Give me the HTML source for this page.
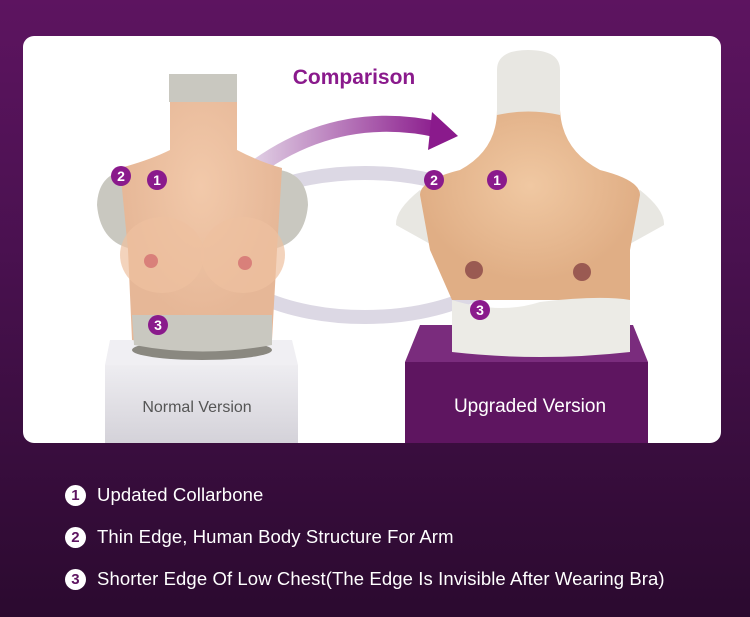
<!DOCTYPE html>
<html><head><style>
body{margin:0;width:750px;height:617px;overflow:hidden;background:linear-gradient(#5d1460 0%,#4a1150 40%,#2b0a2f 100%);font-family:"Liberation Sans",sans-serif;position:relative}
.card{position:absolute;left:23px;top:36px;width:698px;height:407px;background:#fff;border-radius:11px;overflow:hidden}
.li{position:absolute;left:65px;color:#fff;font-size:18.5px;display:flex;align-items:center;letter-spacing:0.1px}
.li span{display:inline-block;width:21px;height:21px;border-radius:50%;background:#fff;color:#5d1460;font-size:15px;font-weight:bold;text-align:center;line-height:21px;margin-right:11px}
</style></head><body>
<div class="card">
<svg width="698" height="407" viewBox="23 36 698 407" style="position:absolute;left:0;top:0">
<defs>
<linearGradient id="ar" x1="0" x2="1"><stop offset="0" stop-color="#e6dcea"/><stop offset="1" stop-color="#8a1a8c"/></linearGradient>
<linearGradient id="ped" x1="0" y1="0" x2="0" y2="1"><stop offset="0" stop-color="#eeedf1"/><stop offset="1" stop-color="#d4d2d9"/></linearGradient>
<radialGradient id="sk1" cx="0.5" cy="0.4"><stop offset="0" stop-color="#f2c9aa"/><stop offset="1" stop-color="#e6b797"/></radialGradient>
<radialGradient id="sk2" cx="0.5" cy="0.4"><stop offset="0" stop-color="#f0c8a2"/><stop offset="1" stop-color="#e0ae85"/></radialGradient>
</defs>
<ellipse cx="365" cy="245" rx="150" ry="72" fill="none" stroke="#dcd8e4" stroke-width="14"/>
<path d="M240 180 Q330 105 440 130" fill="none" stroke="url(#ar)" stroke-width="16"/>
<polygon points="432,112 458,136 428,150" fill="#8a1a8c"/>
<text x="354" y="84" text-anchor="middle" font-size="21" font-weight="bold" fill="#8a1a8c" font-family="Liberation Sans">Comparison</text>
<!-- left pedestal -->
<polygon points="110,340 292,340 298,365 105,365" fill="#f0eff3"/>
<rect x="105" y="365" width="193" height="78" fill="url(#ped)"/>
<text x="197" y="412" text-anchor="middle" font-size="16" fill="#555">Normal Version</text>
<!-- left product -->
<ellipse cx="202" cy="350" rx="70" ry="10" fill="#8a8880"/>
<path d="M125 170 Q98 175 97 205 Q100 240 128 248 Z" fill="#c9c8c0"/>
<path d="M280 170 Q307 175 308 205 Q305 240 277 248 Z" fill="#c9c8c0"/>
<path d="M170 80 L237 80 L237 150 Q260 162 282 168 L277 250 L272 340 Q202 352 132 340 L128 250 L120 168 Q150 160 170 150 Z" fill="url(#sk1)"/>
<rect x="169" y="74" width="68" height="28" fill="#c9c8c0"/>
<path d="M132 315 L272 315 L272 345 Q202 358 134 345 Z" fill="#c9c8c0"/>
<ellipse cx="162" cy="255" rx="42" ry="38" fill="#eec0a0" opacity=".7"/>
<ellipse cx="243" cy="255" rx="42" ry="38" fill="#eec0a0" opacity=".7"/>
<circle cx="151" cy="261" r="7" fill="#d9807a"/><circle cx="245" cy="263" r="7" fill="#d9807a"/>
<!-- right pedestal -->
<polygon points="420,325 633,325 648,362 405,362" fill="#7a2c7d"/>
<rect x="405" y="362" width="243" height="81" fill="#5e1560"/>
<text x="530" y="412" text-anchor="middle" font-size="19" fill="#fff">Upgraded Version</text>
<!-- right product -->
<path d="M420 190 Q395 210 396 225 L432 245 L440 200 Z" fill="#e8e7e2"/>
<path d="M640 190 Q665 210 664 225 L628 245 L620 200 Z" fill="#e8e7e2"/>
<path d="M497 110 L560 110 Q562 150 600 170 Q640 180 640 195 L630 250 L630 300 L452 300 L430 250 L420 195 Q420 180 460 170 Q497 150 497 110 Z" fill="url(#sk2)"/>
<path d="M497 115 L497 70 Q497 50 528 50 Q560 50 560 70 L560 115 Q528 108 497 115 Z" fill="#e8e7e2"/>
<path d="M452 300 Q500 315 540 302 Q600 295 630 300 L630 352 Q540 362 452 352 Z" fill="#ecebe6"/>
<circle cx="474" cy="270" r="9" fill="#9a5a52"/><circle cx="582" cy="272" r="9" fill="#9a5a52"/>
<!-- markers -->
<g font-size="14" font-weight="bold" fill="#fff" text-anchor="middle" font-family="Liberation Sans">
<circle cx="121" cy="176" r="10" fill="#8a1a8c"/><text x="121" y="181">2</text>
<circle cx="157" cy="180" r="10" fill="#8a1a8c"/><text x="157" y="185">1</text>
<circle cx="158" cy="325" r="10" fill="#8a1a8c"/><text x="158" y="330">3</text>
<circle cx="434" cy="180" r="10" fill="#8a1a8c"/><text x="434" y="185">2</text>
<circle cx="497" cy="180" r="10" fill="#8a1a8c"/><text x="497" y="185">1</text>
<circle cx="480" cy="310" r="10" fill="#8a1a8c"/><text x="480" y="315">3</text>
</g>
</svg>
</div>
<div class="li" style="top:484px"><span>1</span>Updated Collarbone</div>
<div class="li" style="top:526px"><span>2</span>Thin Edge, Human Body Structure For Arm</div>
<div class="li" style="top:568px"><span>3</span>Shorter Edge Of Low Chest(The Edge Is Invisible After Wearing Bra)</div>
</body></html>
